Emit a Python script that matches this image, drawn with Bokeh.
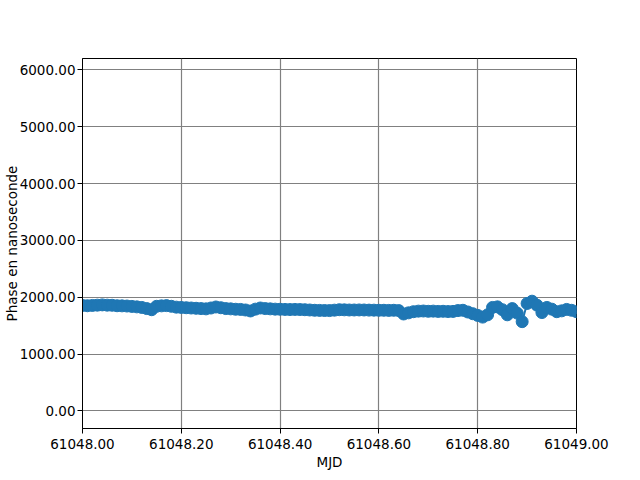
from bokeh.plotting import figure
from bokeh.models import FixedTicker, NumeralTickFormatter, Range1d, ColumnDataSource
from bokeh.embed import file_html
from bokeh.resources import INLINE

# ---- data ----
mjd_start = 61048.0
day_fraction = [i / 100 for i in range(101)]
phase_ns = [
    1855, 1850, 1855, 1860, 1865, 1860, 1858, 1850, 1848, 1845,
    1838, 1830, 1820, 1800, 1780, 1840, 1848, 1852, 1840, 1825,
    1820, 1815, 1810, 1805, 1800, 1795, 1810, 1828, 1815, 1800,
    1795, 1788, 1785, 1775, 1758, 1790, 1810, 1800, 1795, 1790,
    1788, 1785, 1783, 1785, 1783, 1780, 1775, 1770, 1768, 1766,
    1765, 1772, 1780, 1778, 1775, 1775, 1776, 1775, 1773, 1772,
    1770, 1770, 1768, 1770, 1765, 1705, 1725, 1745, 1755, 1757,
    1752, 1755, 1750, 1752, 1748, 1750, 1765, 1770, 1740, 1710,
    1680, 1650, 1690, 1820, 1830, 1780, 1690, 1800, 1720, 1570,
    1890, 1930, 1860, 1730, 1820, 1790, 1745, 1760, 1785, 1770,
    1745,
]
x_ticks = [61048.0, 61048.2, 61048.4, 61048.6, 61048.8, 61049.0]
y_ticks = [0, 1000, 2000, 3000, 4000, 5000, 6000]
y_min, y_max = -310, 6200

mjd = [mjd_start + f for f in day_fraction]
src = ColumnDataSource(data=dict(mjd=mjd, phase=phase_ns))

FONT = "DejaVu Sans"
FS = "13.5px"
p = figure(width=640, height=480, output_backend="svg", toolbar_location=None,
           x_range=Range1d(61048.0, 61049.0), y_range=Range1d(y_min, y_max),
           min_border_left=80, min_border_right=64, min_border_top=58, min_border_bottom=52)
p.background_fill_color = "white"
p.border_fill_color = "white"
p.outline_line_color = "black"
p.outline_line_width = 1

p.line("mjd", "phase", source=src, line_color="#1f77b4", line_width=2)
p.scatter("mjd", "phase", source=src, size=12, fill_color="#1f77b4", line_color="#1f77b4")

p.xaxis.ticker = FixedTicker(ticks=x_ticks)
p.yaxis.ticker = FixedTicker(ticks=y_ticks)
p.xaxis.formatter = NumeralTickFormatter(format="0.00")
p.yaxis.formatter = NumeralTickFormatter(format="0.00")

for ax in (p.xaxis, p.yaxis):
    ax.axis_line_color = "black"
    ax.major_tick_line_color = "black"
    ax.major_tick_out = 5
    ax.major_tick_in = 0
    ax.minor_tick_out = 0
    ax.minor_tick_in = 0
    ax.major_label_text_font = FONT
    ax.major_label_text_font_size = FS
    ax.major_label_text_color = "black"
    ax.major_label_standoff = 5
    ax.axis_label_text_font = FONT
    ax.axis_label_text_font_size = FS
    ax.axis_label_text_font_style = "normal"
    ax.axis_label_text_color = "black"

p.xaxis.axis_label = "MJD"
p.xaxis.axis_label_standoff = 2
p.yaxis.axis_label = "Phase en nanoseconde"
p.yaxis.axis_label_standoff = -3
p.yaxis.major_label_standoff = 2

p.grid.grid_line_color = "#808080"
p.grid.grid_line_width = 1.2

open("out.html", "w").write(file_html(p, INLINE))
